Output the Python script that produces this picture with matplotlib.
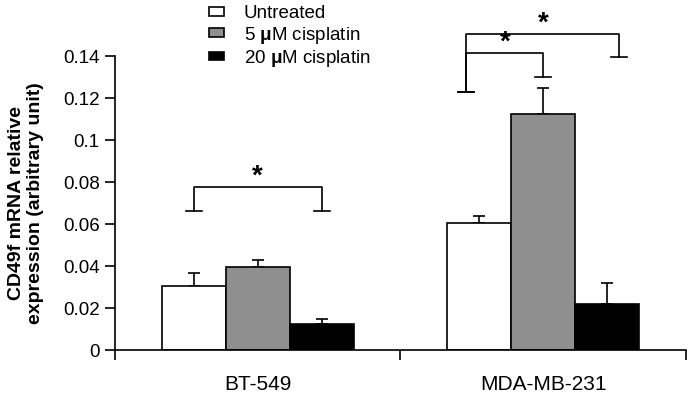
import numpy as np
import matplotlib
matplotlib.use("Agg")
import matplotlib.pyplot as plt
from matplotlib.ticker import FixedLocator, NullFormatter

plt.rcParams['font.family'] = ['Liberation Sans', 'DejaVu Sans']
plt.rcParams['mathtext.fontset'] = 'custom'
plt.rcParams['mathtext.rm'] = 'Liberation Sans'
plt.rcParams['mathtext.bf'] = 'Liberation Sans:bold'

# データ
cell_lines = ['BT-549', 'MDA-MB-231']
treatments = ['Untreated', r'5 $\mathbf{\mu}$M cisplatin', r'20 $\mathbf{\mu}$M cisplatin']
untreated = [0.0306, 0.0603]
cis5 = [0.0394, 0.1124]
cis20 = [0.0125, 0.0221]
untreated_err = [0.0061, 0.0035]
cis5_err = [0.0035, 0.0125]
cis20_err = [0.0021, 0.0099]

# 有意差ブラケット (cell line index, bar i, bar j, top, left end, right end)
brackets = [
    (0, 0, 2, 0.0775, 0.0662, 0.0662),
    (1, 0, 2, 0.1506, 0.1230, 0.1397),
    (1, 0, 1, 0.1416, 0.1230, 0.1300),
]

colors = ['white', '#8f8f8f', 'black']
series = [untreated, cis5, cis20]
errs = [untreated_err, cis5_err, cis20_err]

fig = plt.figure(figsize=(6.87, 3.93), dpi=100)
ax = fig.add_axes([0.1674, 0.1094, 0.8311, 0.7481])

x = np.arange(len(cell_lines))
w = 0.224
offsets = [-w, 0, w]
for vals, err, c, off, lab in zip(series, errs, colors, offsets, treatments):
    ax.bar(x + off, vals, w, color=c, edgecolor='black', linewidth=1.2, label=lab, zorder=2)
    ax.errorbar(x + off, vals, yerr=[np.zeros(len(vals)), err], fmt='none',
                ecolor='black', elinewidth=1.2, capsize=4.5, capthick=1.2, zorder=1)

# ブラケット
end_w = 0.028
shift = {(0, 0): 0.0, (0, 2): 0.0, (1, 0): -0.045, (1, 2): 0.042, (1, 1): 0.0}
for ci, i, j, top, yl, yr in brackets:
    xl = x[ci] + offsets[i] + shift[(ci, i)]
    xr = x[ci] + offsets[j] + shift[(ci, j)]
    ax.plot([xl, xl, xr, xr], [yl, top, top, yr], color='black', lw=1.2, clip_on=False)
    ax.plot([xl - end_w, xl + end_w], [yl, yl], color='black', lw=1.2, clip_on=False)
    ax.plot([xr - end_w, xr + end_w], [yr, yr], color='black', lw=1.2, clip_on=False)
    ax.text((xl + xr) / 2, top - 0.0012, '*', ha='center', va='bottom',
            fontsize=20, fontweight='bold', clip_on=False)

ax.set_xlim(-0.5, 1.5)
ax.set_ylim(0, 0.14)
ax.set_yticks(np.arange(0, 0.141, 0.02))
ax.set_yticklabels(['0', '0.02', '0.04', '0.06', '0.08', '0.1', '0.12', '0.14'])
ax.set_xticks(x)
ax.set_xticklabels(cell_lines, fontsize=15)
ax.tick_params(axis='x', which='major', length=0, pad=18)
ax.xaxis.set_minor_locator(FixedLocator([-0.5, 0.5, 1.5]))
ax.xaxis.set_minor_formatter(NullFormatter())
ax.tick_params(axis='x', which='minor', length=7, width=1.2, direction='out')
ax.tick_params(axis='y', length=7, width=1.2, direction='out', labelsize=13.5, pad=4)
for s in ['top', 'right']:
    ax.spines[s].set_visible(False)
for s in ['left', 'bottom']:
    ax.spines[s].set_linewidth(1.2)

ax.set_ylabel('CD49f mRNA relative\nexpression (arbitrary unit)', fontsize=14,
              fontweight='bold', linespacing=1.15)
ax.yaxis.set_label_coords(-0.125, 0.5)

fig.legend(loc='upper left', bbox_to_anchor=(0.285, 1.02), frameon=False,
           fontsize=13.5, handlelength=0.8, handleheight=0.35, handletextpad=1.07,
           labelspacing=0.12, borderpad=0.2)

plt.savefig('out.png', dpi=100)
